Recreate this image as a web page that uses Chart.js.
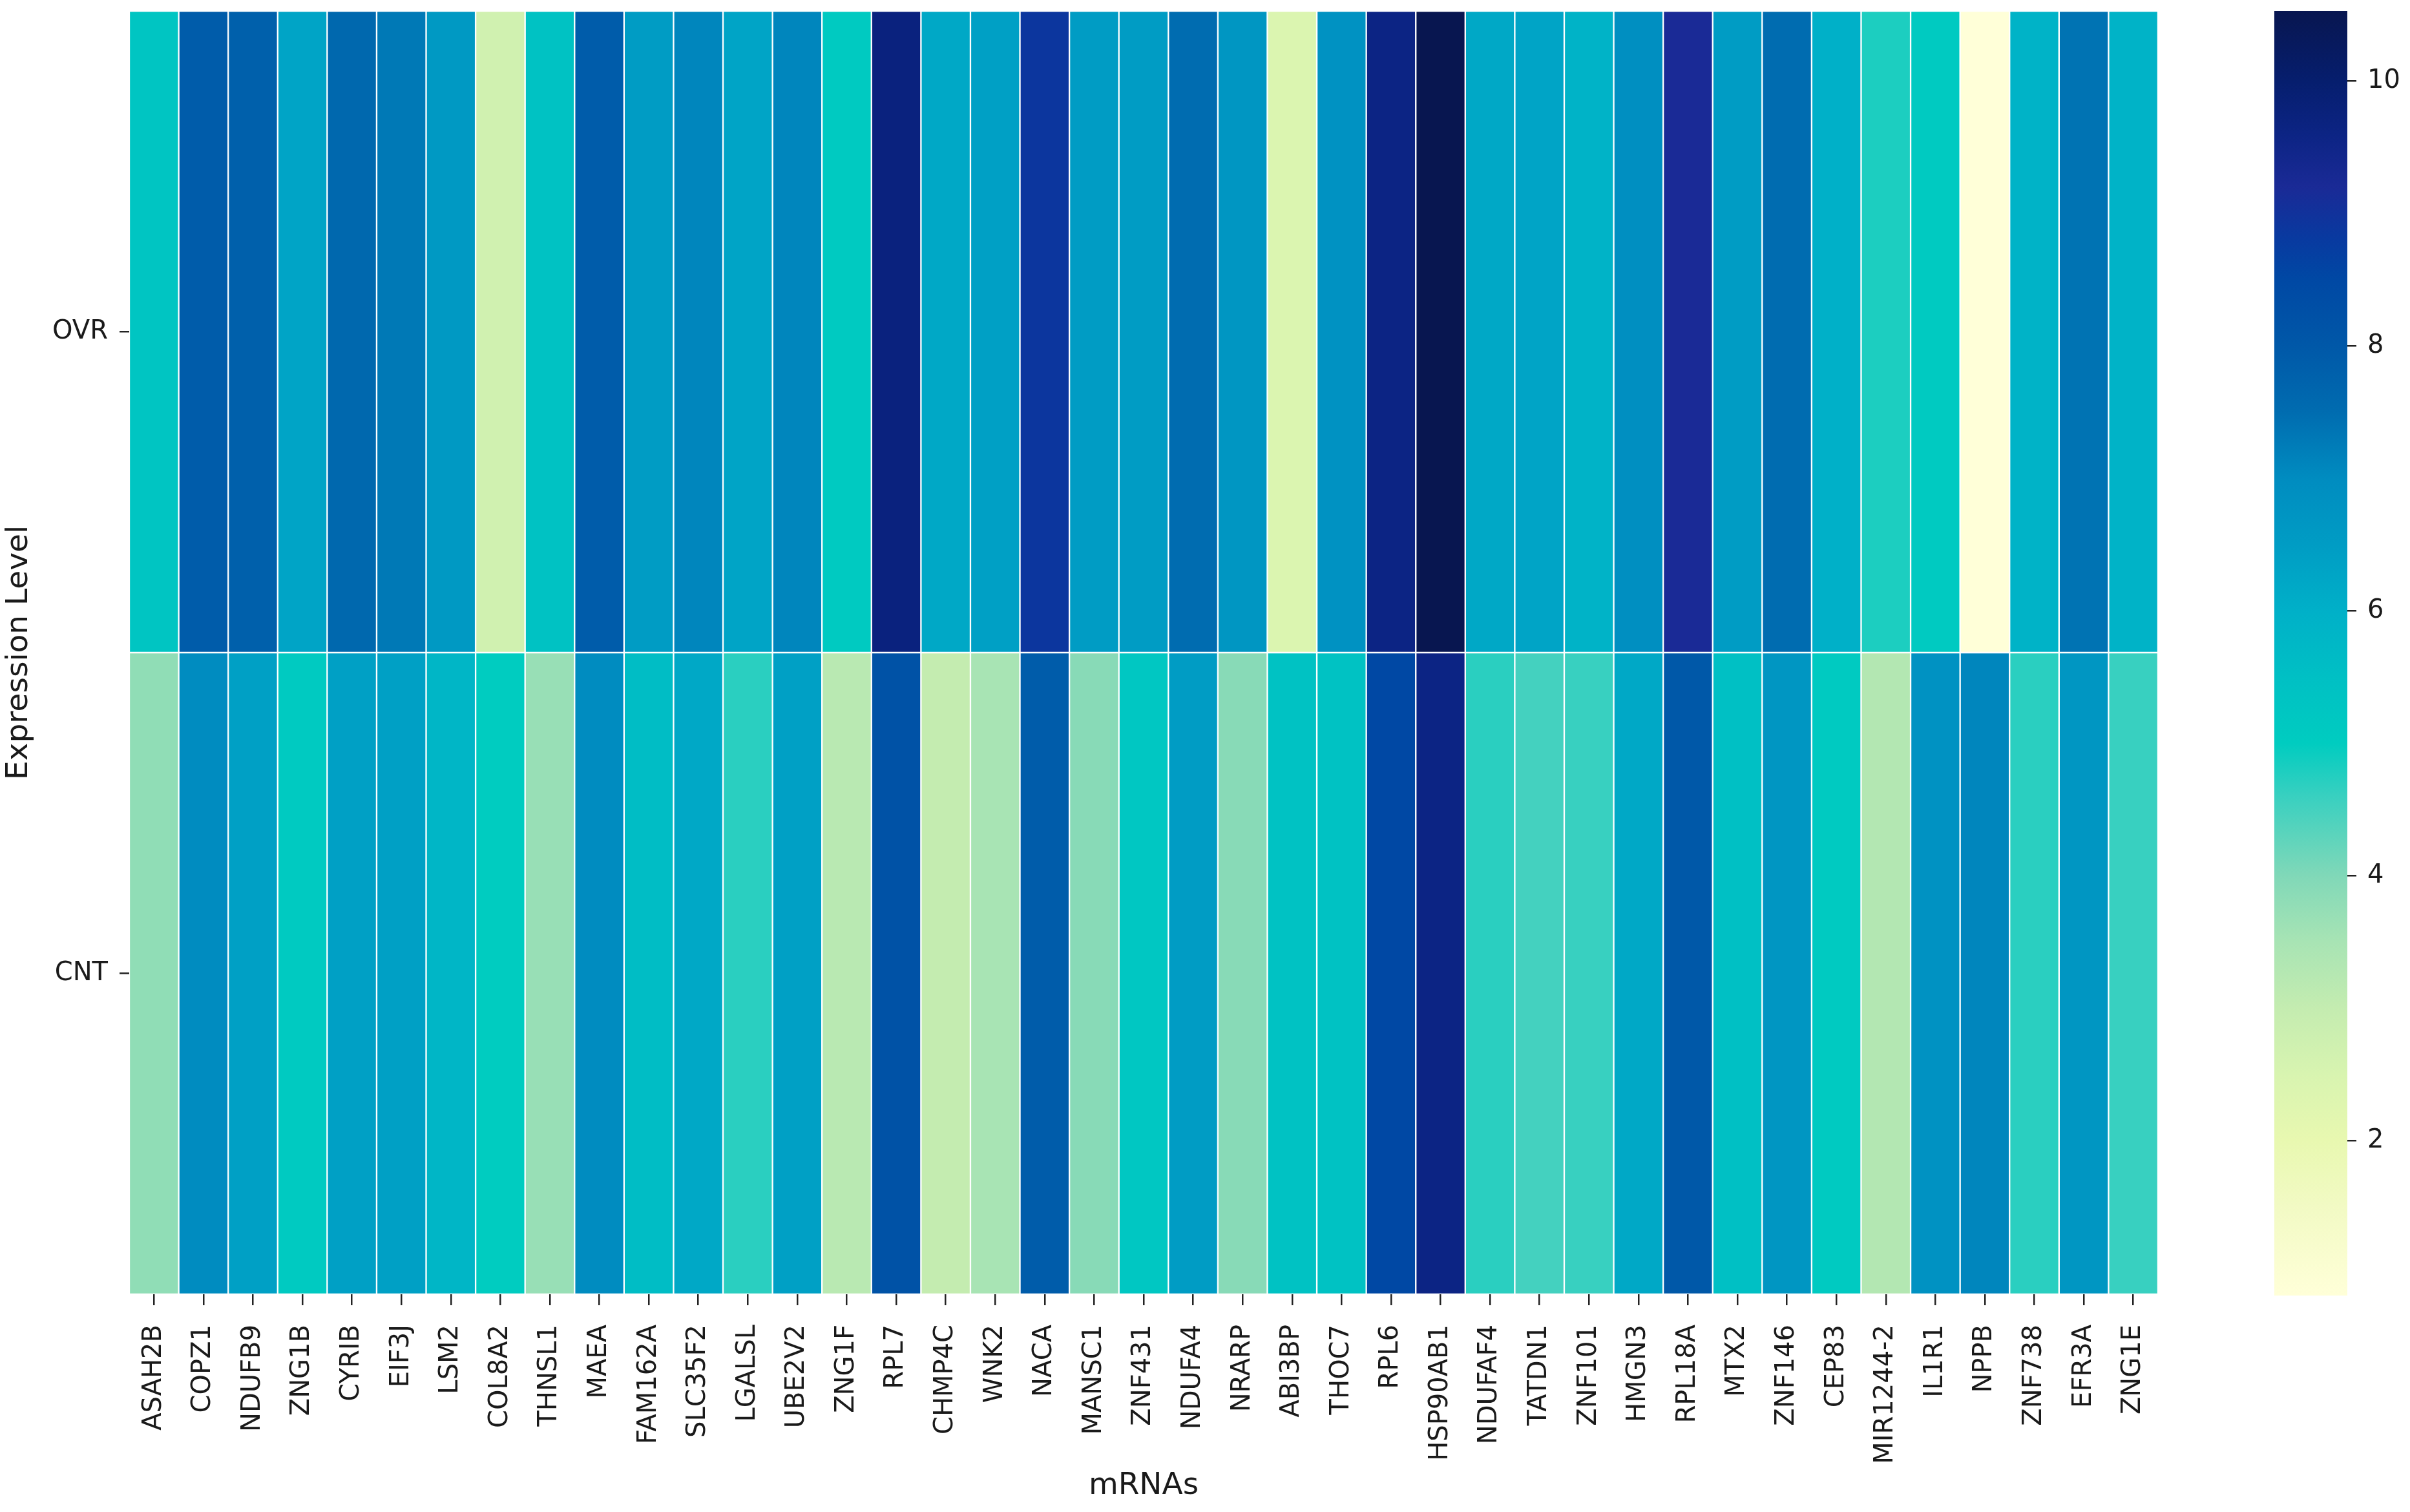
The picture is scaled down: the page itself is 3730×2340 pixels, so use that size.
<!DOCTYPE html>
<html><head><meta charset="utf-8">
<script src="https://cdn.jsdelivr.net/npm/chart.js@4.4.1/dist/chart.umd.min.js"></script>
<style>
html,body{margin:0;padding:0;background:#fff;width:3730px;height:2340px;overflow:hidden}
#main{position:absolute;left:0;top:0;width:3400px;height:2340px}
#cbar{position:absolute;left:3400px;top:0;width:330px;height:2340px}
</style></head><body>
<div id="main"><canvas id="c1" width="3400" height="2340"></canvas></div>
<div id="cbar"><canvas id="c2" width="330" height="2340"></canvas></div>
<script>
const genes = ['ASAH2B','COPZ1','NDUFB9','ZNG1B','CYRIB','EIF3J','LSM2','COL8A2','THNSL1','MAEA','FAM162A','SLC35F2','LGALSL','UBE2V2','ZNG1F','RPL7','CHMP4C','WNK2','NACA','MANSC1','ZNF431','NDUFA4','NRARP','ABI3BP','THOC7','RPL6','HSP90AB1','NDUFAF4','TATDN1','ZNF101','HMGN3','RPL18A','MTX2','ZNF146','CEP83','MIR1244-2','IL1R1','NPPB','ZNF738','EFR3A','ZNG1E'];
const rowLabels = ['OVR','CNT'];
const ovrValues = [5.3,7.9,7.8,6.3,7.6,7.3,6.6,2.7,5.4,7.9,6.5,7.1,6.3,7.1,5.1,9.7,6.2,6.4,8.9,6.5,6.5,7.5,6.7,2.4,6.8,9.6,10.53,6.2,6.3,5.9,6.9,9.2,6.5,7.5,6.0,4.8,5.1,0.83,5.9,7.4,5.9];
const cntValues = [3.8,7.0,6.4,5.1,6.4,6.4,5.8,5.0,3.7,7.0,5.6,6.2,4.7,6.4,3.2,8.2,3.0,3.5,7.9,3.9,5.2,6.5,3.9,5.4,5.4,8.5,9.6,4.7,4.5,4.6,6.2,8.0,5.5,6.7,5.1,3.3,6.8,7.1,4.7,6.7,4.6];
const colorbarStep = 2;

// colour map (normalised position -> colour), as seen on the reference colour bar
const colorStops = [
  [0.000,[255,255,216]],[0.069,[242,250,196]],[0.121,[232,248,176]],[0.172,[216,244,176]],
  [0.224,[196,236,176]],[0.275,[168,228,180]],[0.327,[128,216,184]],[0.389,[56,208,192]],
  [0.430,[0,204,192]],[0.481,[0,192,196]],[0.533,[0,176,200]],[0.585,[0,156,196]],
  [0.636,[0,140,192]],[0.688,[0,108,176]],[0.739,[0,88,168]],[0.791,[0,72,164]],
  [0.822,[8,58,160]],[0.863,[26,42,150]],[0.904,[12,36,132]],[0.945,[6,30,110]],[1.000,[8,22,80]]
];
const allVals = ovrValues.concat(cntValues);
const vmin = Math.min(...allVals), vmax = Math.max(...allVals);
function colorAtT(t){
  t = Math.max(0, Math.min(1, t));
  for (let i = 1; i < colorStops.length; i++){
    const [t1,c1] = colorStops[i];
    if (t <= t1){
      const [t0,c0] = colorStops[i-1];
      const f = (t - t0) / (t1 - t0);
      const c = c0.map((v,k)=>Math.round(v + (c1[k]-v)*f));
      return `rgb(${c[0]},${c[1]},${c[2]})`;
    }
  }
  const c = colorStops[colorStops.length-1][1];
  return `rgb(${c[0]},${c[1]},${c[2]})`;
}
const colorOf = v => colorAtT((v - vmin) / (vmax - vmin));

const FONT = "'DejaVu Sans', 'Liberation Sans', sans-serif";
const TXT = '#1a1a1a';
const cell = genes.map(() => 1);

new Chart(document.getElementById('c1'), {
  type: 'bar',
  data: {
    labels: genes,
    datasets: [
      { label: rowLabels[1], data: cell, backgroundColor: cntValues.map(colorOf) },
      { label: rowLabels[0], data: cell, backgroundColor: ovrValues.map(colorOf) }
    ]
  },
  options: {
    responsive: false, animation: false, devicePixelRatio: 1,
    layout: { padding: { top: 17, right: 60, bottom: 8, left: 0 } },
    datasets: { bar: { barPercentage: 1, categoryPercentage: 1, borderWidth: 1.5, borderColor: 'rgba(255,255,255,0.9)', borderSkipped: false } },
    plugins: { legend: { display: false }, tooltip: { enabled: false } },
    scales: {
      x: {
        stacked: true,
        grid: { display: true, offset: false, drawOnChartArea: false, drawTicks: true, tickLength: 17, tickColor: '#222', lineWidth: 2.5 },
        border: { display: false },
        ticks: { autoSkip: false, maxRotation: 90, minRotation: 90, padding: 30, color: TXT, font: { family: FONT, size: 40 } },
        title: { display: true, text: 'mRNAs', color: TXT, font: { family: FONT, size: 47 }, padding: { top: 4, bottom: 4 } },
        afterFit: s => { s.height = 329; s.paddingLeft = 0; s.paddingRight = 0; }
      },
      y: {
        stacked: true, min: 0, max: rowLabels.length,
        afterBuildTicks: ax => { ax.ticks = rowLabels.map((_, i) => ({ value: i + 0.5 })); },
        grid: { display: true, drawOnChartArea: false, drawTicks: true, tickLength: 15, tickColor: '#222', lineWidth: 2.5 },
        border: { display: false },
        ticks: { padding: 18, color: TXT, font: { family: FONT, size: 40 },
          callback: v => rowLabels[rowLabels.length - 1 - Math.floor(v)] },
        title: { display: true, text: 'Expression Level', color: TXT, font: { family: FONT, size: 47 }, padding: { top: 2, bottom: 2 } },
        afterFit: s => { s.width = 200; s.paddingTop = 0; s.paddingBottom = 0; }
      }
    }
  }
});

new Chart(document.getElementById('c2'), {
  type: 'bar',
  data: {
    labels: [''],
    datasets: [{
      data: [[vmin, vmax]],
      backgroundColor: ctx => {
        const ch = ctx.chart, area = ch.chartArea;
        if (!area) return colorOf(vmax);
        const g = ch.ctx.createLinearGradient(0, area.bottom, 0, area.top);
        colorStops.forEach(([t]) => g.addColorStop(t, colorAtT(t)));
        return g;
      },
      borderWidth: 0, barPercentage: 1, categoryPercentage: 1
    }]
  },
  options: {
    responsive: false, animation: false, devicePixelRatio: 1,
    layout: { padding: { top: 17, right: 0, bottom: 335, left: 120 } },
    plugins: { legend: { display: false }, tooltip: { enabled: false } },
    scales: {
      x: { display: false },
      y: {
        position: 'right', min: vmin, max: vmax,
        grid: { display: true, drawOnChartArea: false, drawTicks: true, tickLength: 14, tickColor: '#222', lineWidth: 2.5 },
        border: { display: false },
        ticks: { stepSize: colorbarStep, includeBounds: false, padding: 17, color: TXT, font: { family: FONT, size: 40 } },
        afterFit: s => { s.width = 97; s.paddingTop = 0; s.paddingBottom = 0; }
      }
    }
  }
});
</script>
</body></html>
